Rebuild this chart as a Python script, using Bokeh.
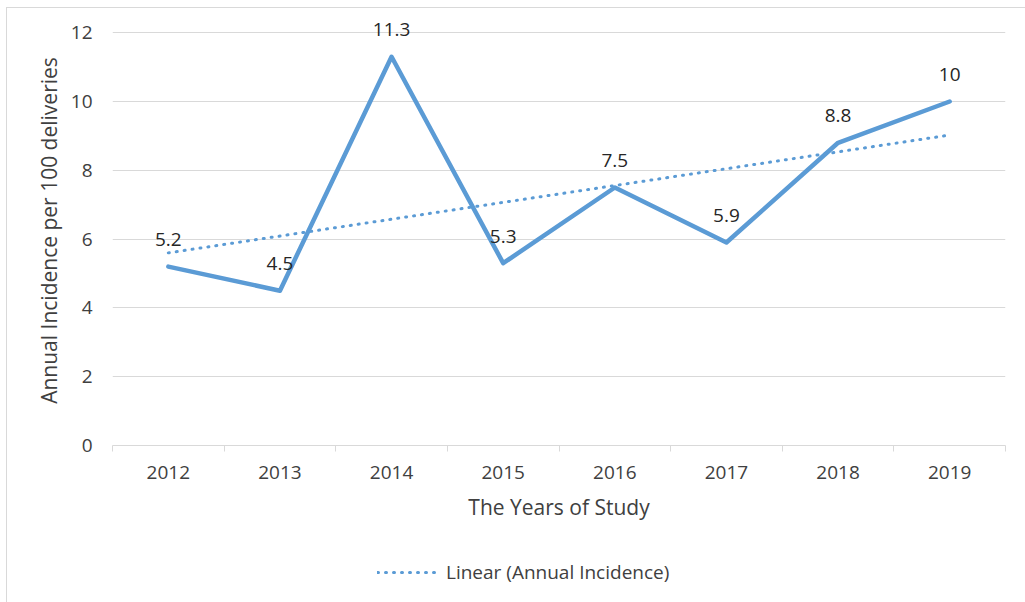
import numpy as np
from bokeh.plotting import figure
from bokeh.layouts import column
from bokeh.models import (FixedTicker, Legend, LegendItem, ColumnDataSource,
                          Range1d, LabelSet)
from bokeh.core.properties import value
from bokeh.embed import file_html
from bokeh.resources import INLINE

years = ["2012", "2013", "2014", "2015", "2016", "2017", "2018", "2019"]
incidence = [5.2, 4.5, 11.3, 5.3, 7.5, 5.9, 8.8, 10]
y_ticks = [0, 2, 4, 6, 8, 10, 12]
labels = ["5.2", "4.5", "11.3", "5.3", "7.5", "5.9", "8.8", "10"]

FONT = "Open Sans"
TXT = "#404040"
GRID = "#d9d9d9"
BLUE = "#5B9BD5"
TICK_SIZE = "19px"
TITLE_SIZE = "21px"

xs = [i + 0.5 for i in range(len(years))]
order = np.arange(1, len(years) + 1)
coef = np.polyfit(order, incidence, 1)
trend = np.polyval(coef, order)

src = ColumnDataSource(dict(x=xs, y=incidence, lab=labels, trend=trend))

p = figure(width=1018, height=537, output_backend="svg", toolbar_location=None,
           x_range=Range1d(0, len(years)), y_range=Range1d(0, 12.5),
           min_border_left=105, min_border_right=20, min_border_top=7,
           min_border_bottom=100)
p.outline_line_color = None
p.background_fill_color = "white"

p.line("x", "y", source=src, line_color=BLUE, line_width=4.5,
       line_join="round", line_cap="round")
p.line("x", "trend", source=src, line_color=BLUE, line_width=3,
       line_dash="1 7", line_cap="round")

lbls = LabelSet(x="x", y="y", text="lab", source=src, y_offset=27,
                text_align="center", text_baseline="middle",
                text_font=value(FONT), text_font_size=TICK_SIZE, text_color="#262626")
p.add_layout(lbls)

xa = p.xaxis[0]
xa.ticker = FixedTicker(ticks=xs, minor_ticks=list(range(len(years) + 1)))
xa.major_label_overrides = {x: y for x, y in zip(xs, years)}
xa.major_tick_line_color = None
xa.major_tick_out = 0
xa.minor_tick_line_color = GRID
xa.minor_tick_out = 6
xa.minor_tick_in = 0
xa.axis_line_color = GRID
xa.major_label_standoff = 14
xa.major_label_text_font = FONT
xa.major_label_text_font_size = TICK_SIZE
xa.major_label_text_color = TXT
xa.axis_label = "The Years of Study"
xa.axis_label_text_font = FONT
xa.axis_label_text_font_size = TITLE_SIZE
xa.axis_label_text_font_style = "normal"
xa.axis_label_text_color = TXT
xa.axis_label_standoff = 11

ya = p.yaxis[0]
ya.ticker = FixedTicker(ticks=y_ticks, minor_ticks=[])
ya.axis_line_color = None
ya.major_tick_line_color = None
ya.major_tick_out = 0
ya.minor_tick_line_color = None
ya.major_label_standoff = 20
ya.major_label_text_font = FONT
ya.major_label_text_font_size = TICK_SIZE
ya.major_label_text_color = TXT
ya.axis_label = "Annual Incidence per 100 deliveries"
ya.axis_label_text_font = FONT
ya.axis_label_text_font_size = TITLE_SIZE
ya.axis_label_text_font_style = "normal"
ya.axis_label_text_color = TXT
ya.axis_label_standoff = 5

p.xgrid.grid_line_color = None
p.ygrid.grid_line_color = GRID
p.ygrid.ticker = FixedTicker(ticks=y_ticks)

# legend strip below the chart (its frame is aligned with the chart's frame)
p2 = figure(width=1018, height=57, output_backend="svg", toolbar_location=None,
            x_range=Range1d(0, len(years)), y_range=Range1d(100, 101), min_border=0)
p2.axis.visible = False
p2.grid.grid_line_color = None
p2.outline_line_color = None
key = p2.line("x", "trend", source=src, line_color=BLUE, line_width=3,
              line_dash="1 7", line_cap="round")
legend = Legend(items=[LegendItem(label="Linear (Annual Incidence)", renderers=[key])],
                location=(265, 17), orientation="horizontal",
                glyph_width=62, glyph_height=20, label_standoff=7,
                padding=0, margin=0, border_line_color=None,
                background_fill_alpha=0,
                label_text_font=FONT, label_text_font_size=TICK_SIZE,
                label_text_color=TXT)
p2.add_layout(legend, "center")

layout = column(p, p2, spacing=0,
                styles={"margin-left": "6px", "margin-top": "7px",
                        "border-left": "1px solid #d9d9d9",
                        "border-top": "1px solid #d9d9d9"})

open("out.html", "w").write(file_html(layout, INLINE))
